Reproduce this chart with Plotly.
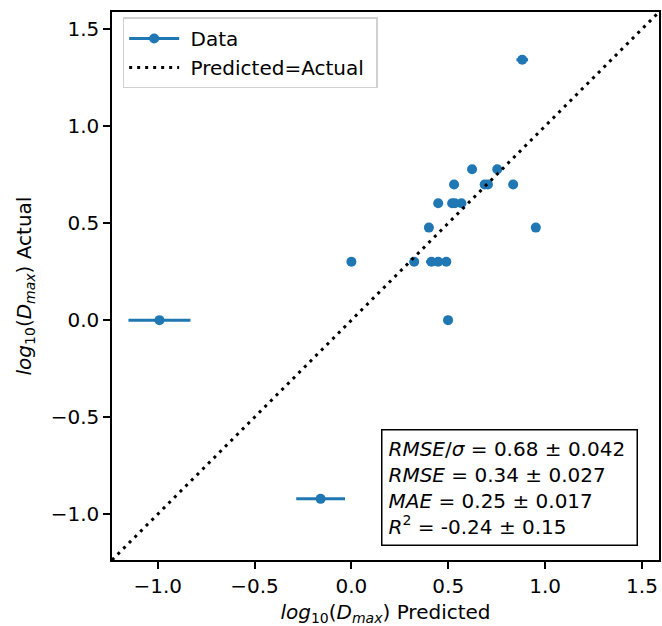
import plotly.graph_objects as go

# Predicted vs actual log10(Dmax), with uncertainty on the predictions
predicted = [-0.991, -0.159, 0.882, 0.0, 0.324, 0.413, 0.448, 0.490, 0.499,
             0.400, 0.952, 0.448, 0.520, 0.534, 0.568, 0.530, 0.688, 0.705,
             0.835, 0.623, 0.753]
actual = [0.0, -0.921, 1.342, 0.301, 0.301, 0.301, 0.301, 0.301, 0.0,
          0.477, 0.477, 0.602, 0.602, 0.602, 0.602, 0.699, 0.699, 0.699,
          0.699, 0.778, 0.778]
pred_err = [0.16, 0.126, 0.03, 0.01, 0.01, 0.027, 0.01, 0.01, 0.01,
            0.01, 0.01, 0.01, 0.01, 0.01, 0.01, 0.01, 0.01, 0.01,
            0.015, 0.01, 0.01]

axis_limits = [-1.236, 1.588]
tick_values = [-1.0, -0.5, 0.0, 0.5, 1.0, 1.5]

stats_lines = [
    "<i>RMSE</i>/<i>σ</i> = 0.68 ± 0.042",
    "<i>RMSE</i> = 0.34 ± 0.027",
    "<i>MAE</i> = 0.25 ± 0.017",
    "<i>R</i><sup>2</sup> = -0.24 ± 0.15",
]

BLUE = "#1f77b4"
FONT = "DejaVu Sans"
FS = 20

fig = go.Figure()

# data points with horizontal error bars
fig.add_trace(go.Scatter(
    x=predicted, y=actual, mode="markers",
    marker=dict(color=BLUE, size=10),
    error_x=dict(type="data", array=pred_err, visible=True,
                 thickness=3, width=0, color=BLUE),
    showlegend=False,
))

# legend handle for the data series
fig.add_trace(go.Scatter(
    x=[None], y=[None], mode="lines+markers", name="\u00a0Data",
    line=dict(color=BLUE, width=3), marker=dict(color=BLUE, size=10),
))

# identity line
fig.add_trace(go.Scatter(
    x=axis_limits, y=axis_limits, mode="lines", name="\u00a0Predicted=Actual\u00a0",
    line=dict(color="black", width=3, dash="3px,5px"),
))

fig.add_annotation(
    xref="paper", yref="paper", x=0.961, y=0.025,
    xanchor="right", yanchor="bottom", align="left", width=242,
    text="<br>".join(stats_lines), showarrow=False,
    font=dict(family=FONT, size=FS, color="black"),
    bordercolor="black", borderwidth=1.5, borderpad=6, bgcolor="white",
)

axis_common = dict(
    range=axis_limits, tickvals=tick_values, tickformat=".1f",
    showgrid=False, zeroline=False, showline=True, linecolor="black",
    linewidth=1.5, mirror=True, ticks="outside", ticklen=7, tickwidth=1.5,
    tickcolor="black", tickfont=dict(family=FONT, size=FS, color="black"),
)

fig.update_xaxes(
    **axis_common,
    title=dict(text="<i>log</i><sub>10</sub>(<i>D</i><sub><i>max</i></sub>) Predicted",
               font=dict(family=FONT, size=FS, color="black"), standoff=8),
)
fig.update_yaxes(
    **axis_common,
    title=dict(text="<i>log</i><sub>10</sub>(<i>D</i><sub><i>max</i></sub>) Actual",
               font=dict(family=FONT, size=FS, color="black"), standoff=14),
)

fig.update_layout(
    width=662, height=626,
    margin=dict(l=112, r=1, t=12, b=66),
    plot_bgcolor="white", paper_bgcolor="white",
    font=dict(family=FONT, size=FS, color="black"),
    legend=dict(
        x=0.0195, y=0.99, xanchor="left", yanchor="top",
        bgcolor="white", bordercolor="#d0d0d0", borderwidth=1.5,
        font=dict(family=FONT, size=FS, color="black"),
        itemwidth=50, tracegroupgap=0,
    ),
)

fig.write_html("out.html")
